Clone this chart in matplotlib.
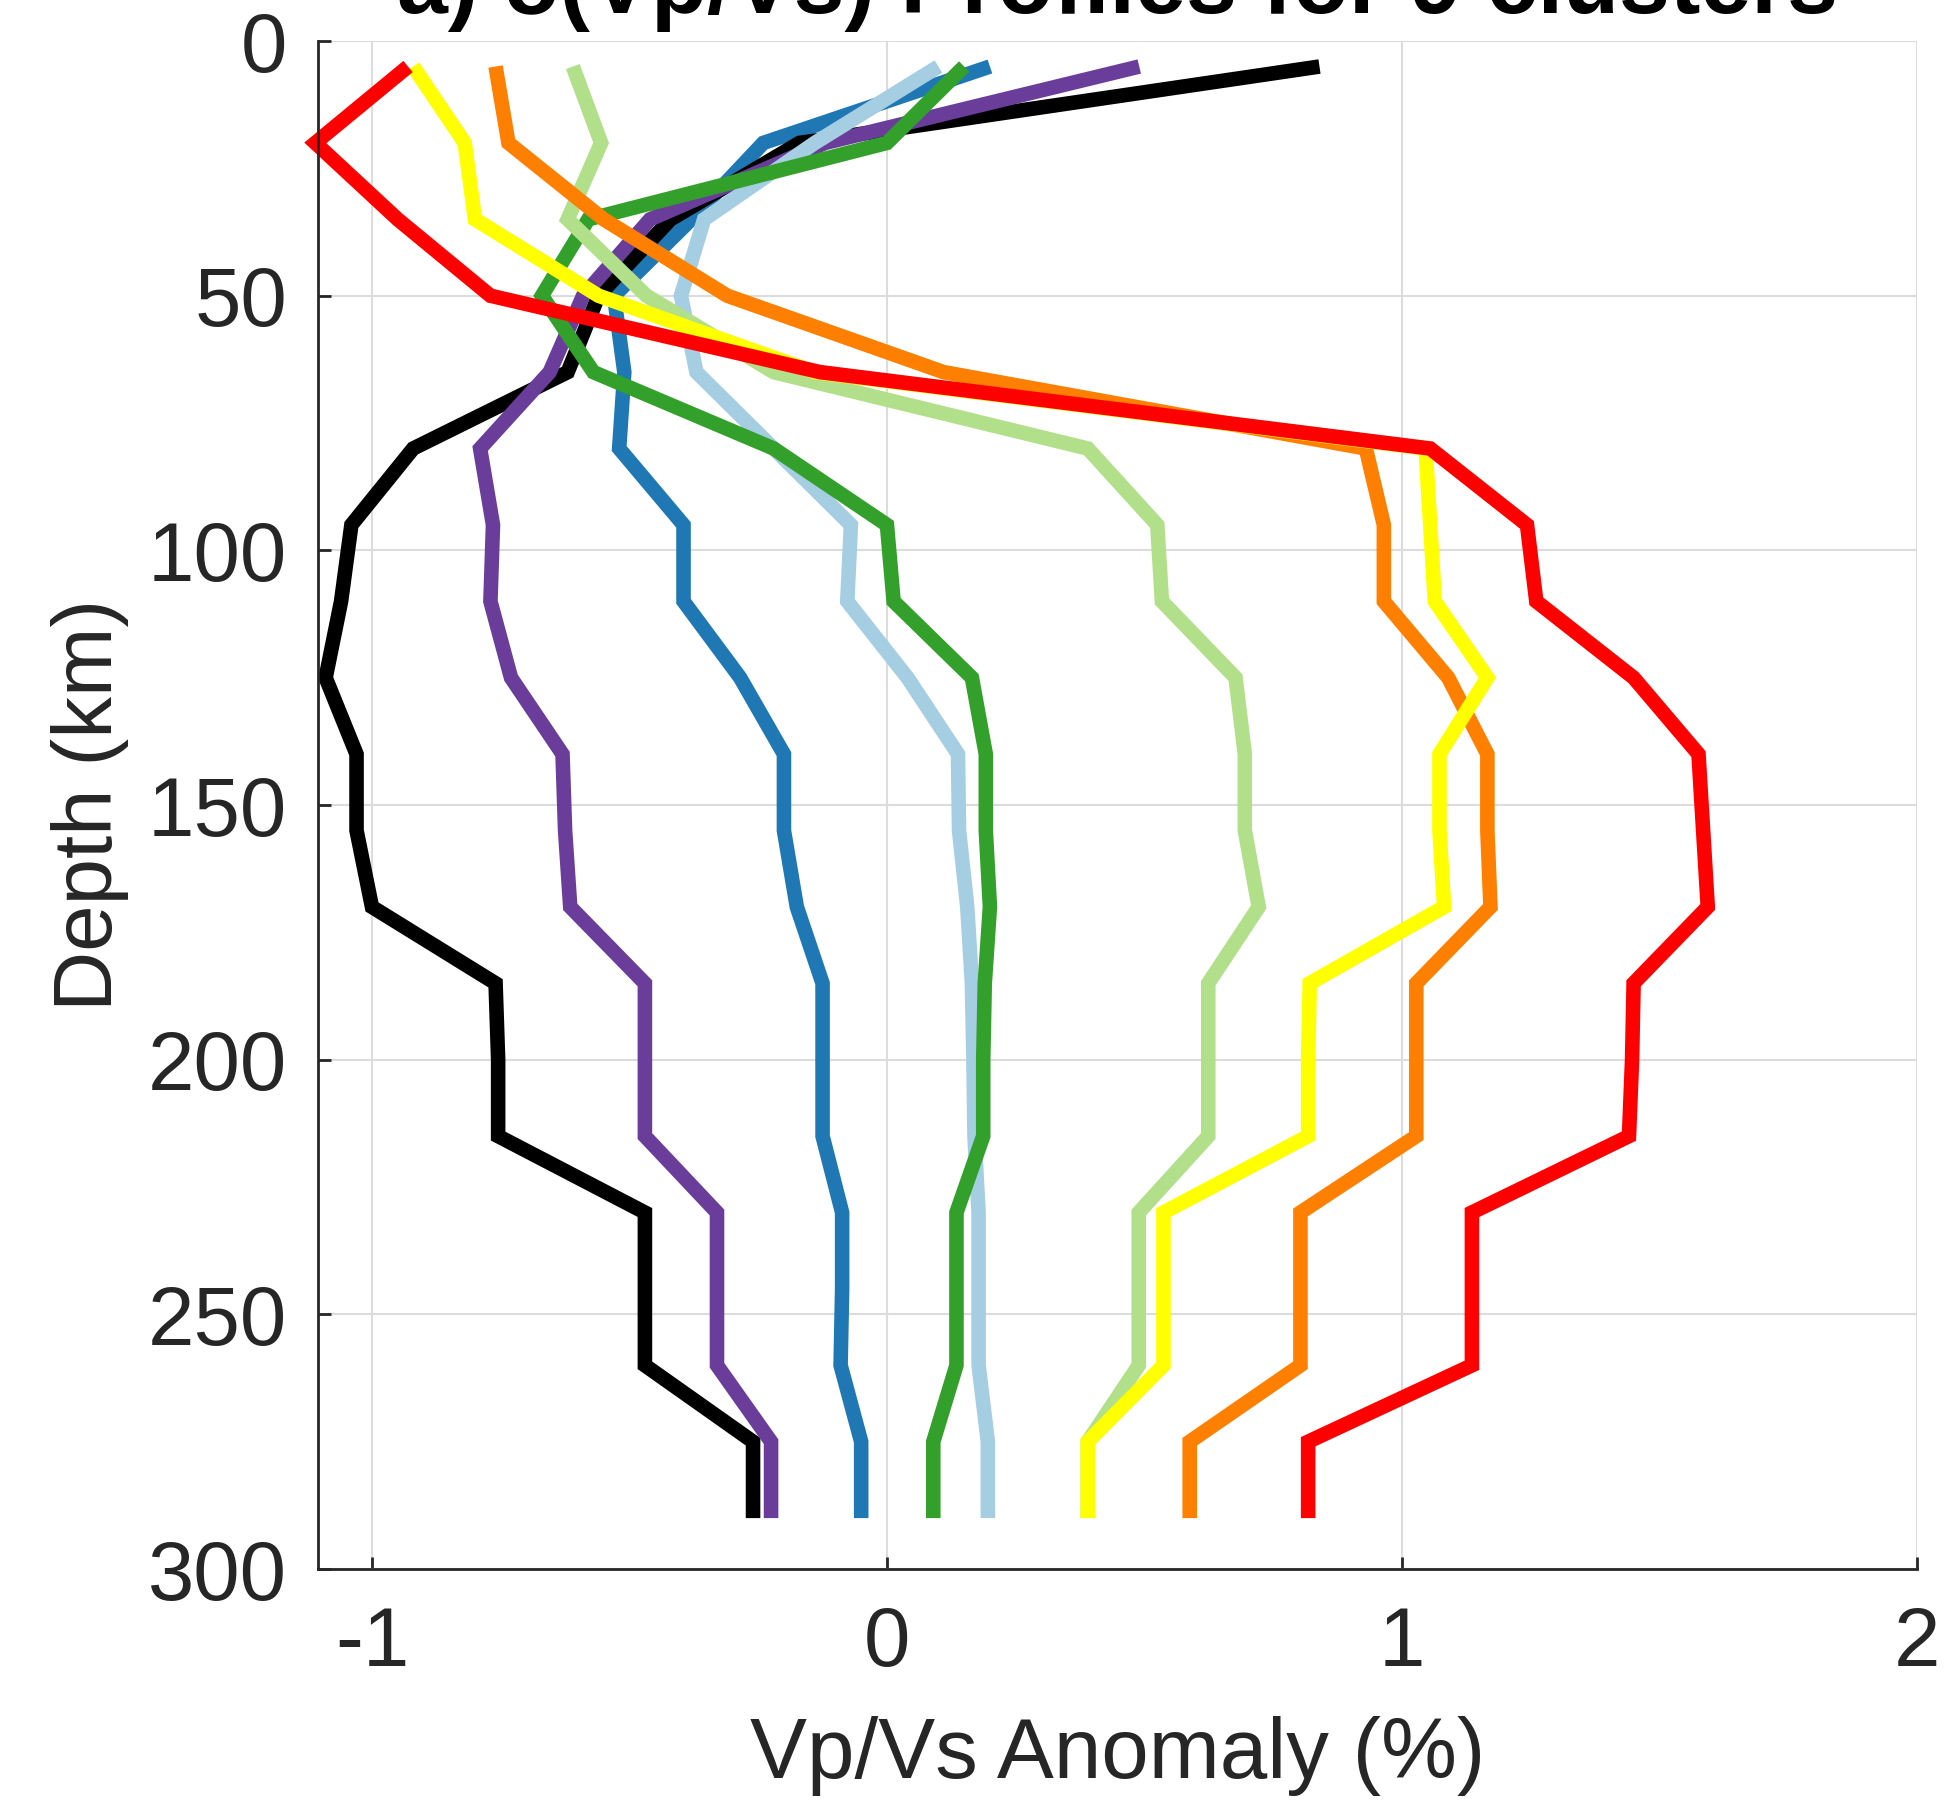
import matplotlib
matplotlib.use("Agg")
import matplotlib.pyplot as plt

plt.rcParams['font.family'] = ['Liberation Sans', 'DejaVu Sans']
plt.rcParams['axes.unicode_minus'] = False

# depth nodes of the profiles (km)
depth = [5, 20, 35, 50, 65, 80, 95, 110, 125, 140,
         155, 170, 185, 200, 215, 230, 245, 260, 275, 290]

# Vp/Vs anomaly (%) per cluster
black = [0.84, -0.17, -0.42, -0.56, -0.62, -0.92, -1.04, -1.06, -1.09, -1.03,
         -1.03, -1.00, -0.76, -0.755, -0.755, -0.47, -0.47, -0.47, -0.26, -0.26]
purple = [0.49, -0.12, -0.46, -0.59, -0.655, -0.79, -0.765, -0.77, -0.73, -0.63,
          -0.625, -0.615, -0.47, -0.47, -0.47, -0.33, -0.33, -0.33, -0.225, -0.225]
blue = [0.20, -0.24, -0.38, -0.53, -0.51, -0.52, -0.395, -0.395, -0.285, -0.20,
        -0.20, -0.175, -0.125, -0.125, -0.125, -0.087, -0.087, -0.09, -0.05, -0.05]
light_blue = [0.10, -0.14, -0.355, -0.40, -0.37, -0.22, -0.07, -0.077, 0.04, 0.138,
              0.14, 0.156, 0.165, 0.168, 0.17, 0.178, 0.178, 0.178, 0.196, 0.196]
green = [0.15, 0.0, -0.58, -0.67, -0.57, -0.22, 0.0, 0.013, 0.165, 0.192,
         0.192, 0.20, 0.19, 0.187, 0.187, 0.135, 0.135, 0.135, 0.09, 0.09]
light_green = [-0.61, -0.555, -0.62, -0.467, -0.22, 0.39, 0.525, 0.534, 0.677, 0.695,
               0.695, 0.722, 0.624, 0.624, 0.624, 0.489, 0.489, 0.489, 0.39, 0.39]
yellow = [-0.92, -0.82, -0.80, -0.56, -0.14, 1.046, 1.055, 1.064, 1.166, 1.073,
          1.073, 1.082, 0.821, 0.818, 0.818, 0.537, 0.537, 0.537, 0.39, 0.39]
orange = [-0.76, -0.735, -0.55, -0.31, 0.11, 0.93, 0.965, 0.965, 1.09, 1.166,
          1.166, 1.172, 1.028, 1.028, 1.028, 0.803, 0.803, 0.803, 0.588, 0.588]
red = [-0.93, -1.11, -0.95, -0.77, -0.13, 1.055, 1.243, 1.261, 1.45, 1.576,
       1.585, 1.594, 1.45, 1.447, 1.441, 1.136, 1.136, 1.136, 0.818, 0.818]

# drawing order (last on top)
profiles = [
    (blue, '#1f78b4'),
    (black, '#000000'),
    (purple, '#6a3d9a'),
    (light_blue, '#a6cee3'),
    (green, '#33a02c'),
    (light_green, '#b2df8a'),
    (orange, '#ff7f00'),
    (yellow, '#ffff00'),
    (red, '#ff0000'),
]

fig = plt.figure(figsize=(19.48, 18.01), dpi=100)
ax = fig.add_axes([0.1632, 0.1288, 0.8208, 0.8484])

for vals, col in profiles:
    ax.plot(vals, depth, color=col, lw=10.5, solid_joinstyle='miter',
            solid_capstyle='butt', clip_on=False)

ax.set_xlim(-1.105, 2)
ax.set_ylim(300, 0)
ax.set_xticks([-1, 0, 1, 2])
ax.set_yticks([0, 50, 100, 150, 200, 250, 300])

ax.grid(True, color='#dcdcdc', lw=1.5)
ax.set_axisbelow(True)
for s in ['top', 'right']:
    ax.spines[s].set_visible(False)
for s in ['left', 'bottom']:
    ax.spines[s].set_color('#262626')
    ax.spines[s].set_linewidth(2)

ax.tick_params(axis='both', direction='in', length=9, width=2,
               color='#262626', labelcolor='#262626', labelsize=60)
ax.tick_params(axis='y', pad=22)
ax.tick_params(axis='x', pad=26)

ax.set_xlabel('Vp/Vs Anomaly (%)', fontsize=61.5, color='#262626', labelpad=24)
ax.set_ylabel('Depth (km)', fontsize=60, color='#262626', labelpad=14)

# title sits partly above the canvas, as in the original export
fig.text(0.5735, 1 - 13 / 1801, 'a) δ(Vp/Vs) Profiles for 9 clusters',
         ha='center', va='baseline', fontsize=66, fontweight='bold', color='black')

fig.savefig('out.png', dpi=100)
